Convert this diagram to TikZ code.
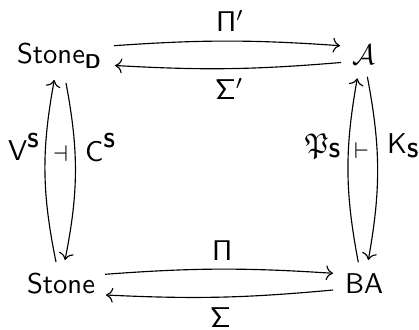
\documentclass[tikz,border=0pt]{standalone}
\usepackage{amsmath,amssymb}
\usetikzlibrary{arrows.meta}
\begin{document}
\begin{tikzpicture}[x=0.35pt,y=-0.35pt,
  every node/.style={inner sep=0pt,outer sep=0pt},
  obj/.style={anchor=base west,font=\sffamily},
  lbl/.style={anchor=base west},
  adj/.style={font=\fontsize{8}{9}\selectfont},
  arr/.style={-{Computer Modern Rightarrow},line width=0.4pt}]
\useasboundingbox (0,0) rectangle (419,329);
% objects
\node[obj] (sd) at (17,64) {Stone$_{\textsf{\textbf{D}}}$};
\node[obj] (ca) at (352,65) {$\mathcal{A}$};
\node[obj] (st) at (27,293) {Stone};
\node[obj] (ba) at (345,293) {BA};
% horizontal arrows
\draw[arr] ([shift={(97,-18.3)}]sd.base west) to[bend left=4] ([shift={(-12,-19.3)}]ca.base west);
\draw[arr] ([shift={(-11,-2.5)}]ca.base west) to[bend left=4] ([shift={(98,1.5)}]sd.base west);
\draw[arr] ([shift={(78,-18.7)}]st.base west) to[bend left=4] ([shift={(-12,-19.7)}]ba.base west);
\draw[arr] ([shift={(-12,-3)}]ba.base west) to[bend left=4] ([shift={(79,2)}]st.base west);
% vertical arrows
\draw[arr] ([shift={(29,-31)}]st.base west) to[bend left=11] ([shift={(37.3,16)}]sd.base west);
\draw[arr] ([shift={(49,19)}]sd.base west) to[bend left=11] ([shift={(38,-33)}]st.base west);
\draw[arr] ([shift={(13.3,-30.7)}]ba.base west) to[bend left=10.5] ([shift={(5.3,13.3)}]ca.base west);
\draw[arr] ([shift={(15.3,11.7)}]ca.base west) to[bend left=10.5] ([shift={(23.3,-33)}]ba.base west);
% labels
\node[lbl] (lp1) at (216,32) {$\mathsf{\Pi}'$};
\node[lbl] (ls1) at (215,100) {$\mathsf{\Sigma}'$};
\node[lbl] (lp) at (212,260) {$\mathsf{\Pi}$};
\node[lbl] (ls) at (210,327) {$\mathsf{\Sigma}$};
\node[lbl] (lv) at (8,160) {$\textsf{V}^{\textsf{\textbf{S}}}$};
\node[lbl] (lc) at (85,161) {$\textsf{C}^{\textsf{\textbf{S}}}$};
\node[lbl] (lpf) at (305,153) {$\mathfrak{P}_{\textsf{\textbf{S}}}$};
\node[lbl] (lk) at (387,153) {$\textsf{K}_{\textsf{\textbf{S}}}$};
\node[adj] (adj1) at (60.5,154) {$\dashv$};
\node[adj] (adj2) at (361.5,151) {$\vdash$};
\end{tikzpicture}
\end{document}
